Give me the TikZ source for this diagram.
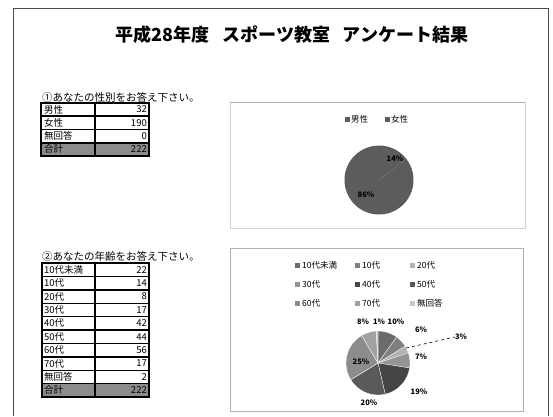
\documentclass[tikz,border=0pt]{standalone}
\usepackage{fontspec}
\newfontfamily\cjk{Noto Sans CJK JP}
\begin{document}
\begin{tikzpicture}[x=1pt,y=-1pt,
  outer/.style={draw=black!70,line width=1pt},
  chartbox/.style={draw=black!30,line width=0.8pt},
  tline/.style={draw=black,line width=1.4pt},
  qtext/.style={font=\cjk\fontsize{10.5}{10.5}\selectfont,inner sep=0pt,anchor=base west},
  lcell/.style={font=\cjk\fontsize{9.5}{9.5}\selectfont,inner sep=0pt,anchor=west},
  ncell/.style={font=\cjk\fontsize{9.5}{9.5}\selectfont,inner sep=0pt,anchor=east},
  legtext/.style={font=\cjk\fontsize{8.5}{8.5}\selectfont,inner sep=0pt,anchor=west},
  pct/.style={font=\cjk\bfseries\fontsize{7.5}{7.5}\selectfont,inner sep=0pt},
  sw/.style={draw=white,line width=0.3pt}]
\useasboundingbox (0,0) rectangle (553,416);
\fill[white] (0,0) rectangle (553,416);
\definecolor{cA}{gray}{0.42}
\definecolor{cB}{gray}{0.50}
\definecolor{cC}{gray}{0.70}
\definecolor{cD}{gray}{0.58}
\definecolor{cE}{gray}{0.27}
\definecolor{cF}{gray}{0.35}
\definecolor{cG}{gray}{0.55}
\definecolor{cH}{gray}{0.63}
\definecolor{cI}{gray}{0.78}
\definecolor{cP}{gray}{0.36}
\definecolor{tot}{gray}{0.55}
% outer frame
\draw[outer] (13,416) -- (13,8) -- (548,8) -- (548,416);
% title
\node[font=\cjk\bfseries\fontsize{18}{18}\selectfont,inner sep=0pt] (title) at (292,35)
  {平成28年度\hspace{0.7em}スポーツ教室\hspace{0.7em}アンケート結果};
% ---------- table 1
\node[qtext] (q1) at (42,101) {①あなたの性別をお答え下さい。};
\fill[tot] (41,143) rectangle (149,156);
\draw[tline] (41,103) rectangle (149,156);
\draw[tline] (95,103) -- (95,156);
\draw[tline] (41,116) -- (149,116);
\draw[tline] (41,129.5) -- (149,129.5);
\draw[tline] (41,143) -- (149,143);
\foreach \t/\v [count=\i from 0] in {男性/32,女性/190,無回答/0,合計/222}{
  \node[lcell] (t1l\i) at (44,109.6+13.25*\i) {\t};
  \node[ncell] (t1n\i) at (147,109.6+13.25*\i) {\v};
}
% ---------- table 2
\node[qtext] (q2) at (42,260) {②あなたの年齢をお答え下さい。};
\fill[tot] (42,383.6) rectangle (149,397);
\draw[tline] (42,263) rectangle (149,397);
\draw[tline] (95,263) -- (95,397);
\foreach \yy in {276.4,289.8,303.2,316.6,330,343.4,356.8,370.2,383.6}
  \draw[tline] (42,\yy) -- (149,\yy);
\foreach \t/\v [count=\i from 0] in {10代未満/22,10代/14,20代/8,30代/17,40代/42,50代/44,60代/56,70代/17,無回答/2,合計/222}{
  \node[lcell] (t2l\i) at (44,269.7+13.4*\i) {\t};
  \node[ncell] (t2n\i) at (147,269.7+13.4*\i) {\v};
}
% ---------- chart 1
\draw[chartbox,draw=black!18] (230,102) rectangle (525,228);
\draw[chartbox] (230,102) -- (525,102);
\fill[cP] (344.5,116.5) rectangle (349.5,121.5);
\node[legtext] (l1a) at (351,119) {男性};
\fill[cP] (384.5,116.5) rectangle (389.5,121.5);
\node[legtext] (l1b) at (391,119) {女性};
\coordinate (p1) at (379,180);
\fill[cP] (p1) -- ++(-90:34.5) arc[start angle=-90,end angle=-38.1,radius=34.5] -- cycle;
\fill[cP] (p1) -- ++(-38.1:34.5) arc[start angle=-38.1,end angle=270,radius=34.5] -- cycle;
\node[pct] (p1a) at (395,159) {14\%};
\node[pct] (p1b) at (366,195) {86\%};
% ---------- chart 2
\draw[chartbox] (230,248) rectangle (523,411);
\foreach \c/\t/\x/\y [count=\k] in {cA/10代未満/297/265,cB/10代/357/265,cC/20代/412/265,
   cD/30代/297/284,cE/40代/357/284,cF/50代/412/284,
   cG/60代/297/303,cH/70代/357/303,cI/無回答/412/303}{
  \fill[\c] (\x-2.5,\y-2.5) rectangle (\x+2.5,\y+2.5);
  \node[legtext] (lg\k) at (\x+5,\y) {\t};
}
\coordinate (p2) at (378,363);
\def\rr{32}
\foreach \a/\b/\c in {-90/-54.32/cA,-54.32/-31.62/cB,-31.62/-18.65/cC,-18.65/8.92/cD,
   8.92/77.03/cE,77.03/148.38/cF,148.38/239.19/cG,239.19/266.76/cH,266.76/270/cI}{
  \fill[\c,sw] (p2) -- ++(\a:\rr) arc[start angle=\a,end angle=\b,radius=\rr] -- cycle;
}
\node[pct] (s70) at (363,322) {8\%};
\node[pct] (sNA) at (379,322) {1\%};
\node[pct] (s10u) at (396,322) {10\%};
\node[pct] (s10) at (421,330) {6\%};
\node[pct] (s20) at (461,337) {3\%};
\coordinate (s20e) at (406,348);
\draw[dashed,line width=0.6pt] (s20e) -- (s20.west);
\node[pct] (s30) at (421,357) {7\%};
\node[pct] (s40) at (419,392) {19\%};
\node[pct] (s50) at (369,403) {20\%};
\node[pct] (s60) at (361,362) {25\%};
\end{tikzpicture}
\end{document}
